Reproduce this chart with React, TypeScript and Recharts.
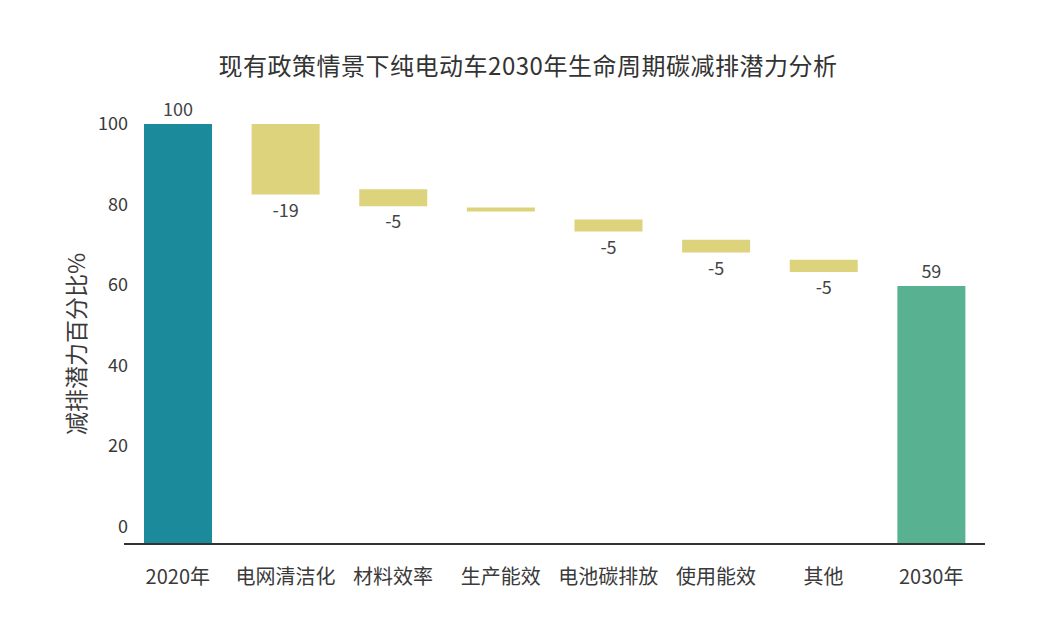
import React from 'react';
import { BarChart, Bar, XAxis, YAxis, Cell, LabelList } from 'recharts';

const categories = ['2020年', '电网清洁化', '材料效率', '生产能效', '电池碳排放', '使用能效', '其他', '2030年'];
// top and bottom of each bar (waterfall)
const barTops = [100, 100, 83.8, 79.3, 76.3, 71.3, 66.3, 59.8];
const barBottoms = [-4.2, 82.5, 79.6, 78.3, 73.3, 68.1, 63.3, -4.2];
const barLabels = ['100', '-19', '-5', '', '-5', '-5', '-5', '59'];
const barKinds = ['total', 'change', 'change', 'change', 'change', 'change', 'change', 'total'];
const yTicks = [0, 20, 40, 60, 80, 100];

const data = categories.map((name, i) => ({
  name,
  range: [barBottoms[i], barTops[i]],
  label: barLabels[i],
  kind: barKinds[i],
}));

const colorFor = (i: number) => {
  if (i === 0) return '#1b8b9b';
  if (i === categories.length - 1) return '#58b191';
  return '#ddd37c';
};

const FONT = '"Noto Sans CJK SC", "Noto Sans", sans-serif';
const TEXT = '#3a3a3a';

const renderLabel = (props: any) => {
  const { x, y, width, height, index } = props;
  const d = data[index];
  if (!d || !d.label) return null;
  const cx = x + width / 2;
  const ty = d.kind === 'total' ? Math.min(y, y + height) - 8 : Math.max(y, y + height) + 22;
  return (
    <text x={cx} y={ty} textAnchor="middle" fill="#444" fontSize={18} fontFamily={FONT}>
      {d.label}
    </text>
  );
};

const YTick = (props: any) => {
  const { x, y, payload } = props;
  return (
    <text x={x + 12} y={y} dy={6} textAnchor="end" fill={TEXT} fontSize={18} fontFamily={FONT}>
      {payload.value}
    </text>
  );
};

const YLabel = (props: any) => {
  const { viewBox } = props;
  const cx = 67;
  const cy = viewBox.y + viewBox.height / 2 + 10;
  return (
    <text x={cx} y={cy} transform={`rotate(-90, ${cx}, ${cy})`} textAnchor="middle" dominantBaseline="central" fill={TEXT} fontSize={23} fontFamily={FONT}>
      减排潜力百分比%
    </text>
  );
};

export default function App() {
  return (
    <div style={{ position: 'relative', width: 1040, height: 616, background: '#fff', fontFamily: FONT }}>
      <div style={{ position: 'absolute', top: 44, left: 0, width: 1040, textAlign: 'center', fontSize: 24, lineHeight: '26px', color: '#333', letterSpacing: 0.5 }}>
        现有政策情景下纯电动车2030年生命周期碳减排潜力分析
      </div>
      <BarChart width={1040} height={616} data={data} margin={{ top: 116, right: 63, bottom: 20, left: 0 }}>
        <XAxis
          dataKey="name"
          height={60}
          tickLine={false}
          axisLine={{ stroke: '#333', strokeWidth: 2 }}
          tickMargin={20}
          tick={{ fill: TEXT, fontSize: 20, fontFamily: FONT }}
          interval={0}
        />
        <YAxis
          width={116}
          domain={[-4.2, 100]}
          ticks={yTicks}
          allowDataOverflow
          axisLine={false}
          tickLine={false}
          tick={<YTick />}
          label={<YLabel />}
        />
        <Bar dataKey="range" barSize={68} isAnimationActive={false}>
          {data.map((_, i) => (
            <Cell key={i} fill={colorFor(i)} />
          ))}
          <LabelList dataKey="label" content={renderLabel} />
        </Bar>
      </BarChart>
    </div>
  );
}
